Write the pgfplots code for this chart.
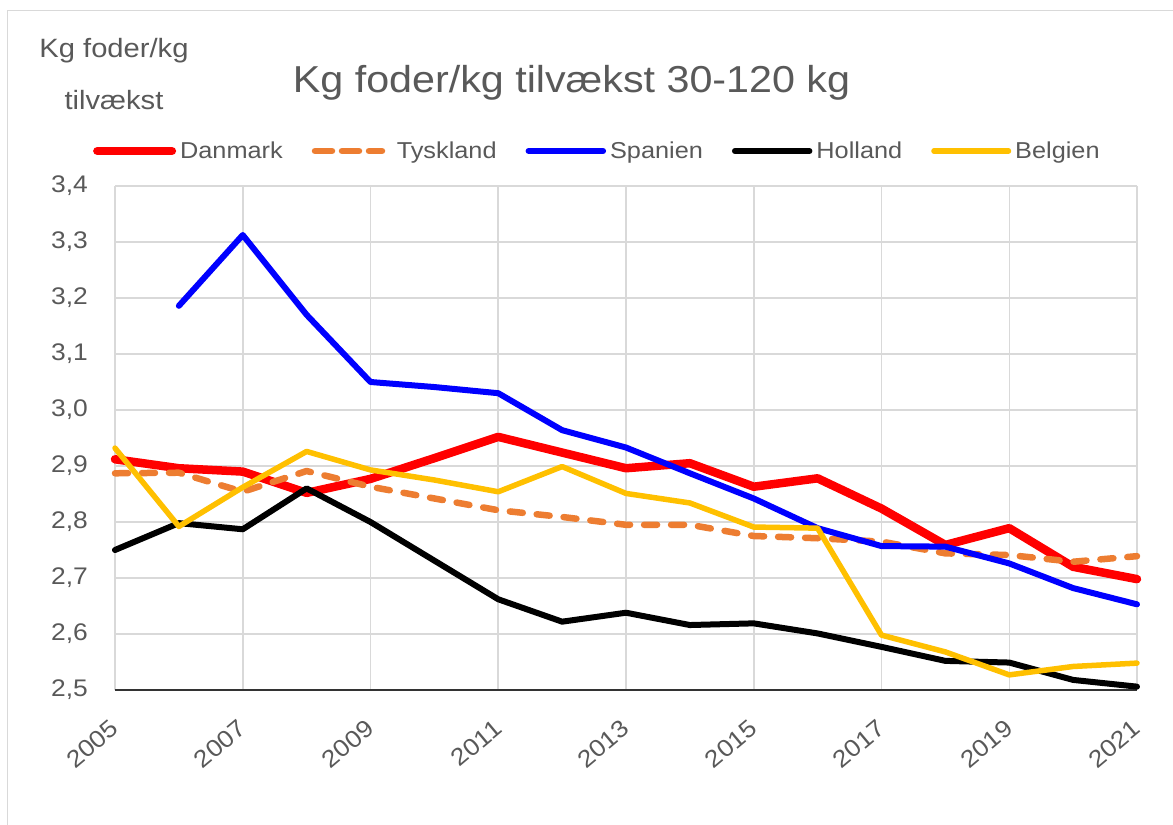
\documentclass[border=0pt]{standalone}
\usepackage{fontspec}
\setmainfont{Liberation Sans}[FakeStretch=1.1]
\usepackage{pgfplots}
\pgfplotsset{compat=1.18}
\definecolor{txtgray}{HTML}{595959}
\definecolor{gridgray}{HTML}{D9D9D9}
\definecolor{framegray}{HTML}{D9D9D9}
\definecolor{dkred}{HTML}{FF0000}
\definecolor{orng}{HTML}{ED7D31}
\definecolor{blu}{HTML}{0000FF}
\definecolor{yel}{HTML}{FFC000}
\pgfplotsset{mylegimg/.style={legend image code/.code={\path (0bp,0bp) -- (74.5bp,0bp); \draw[##1, line cap=round] (4bp,0bp) -- (64.6bp,0bp);}}}
\begin{document}
\begin{tikzpicture}
\path[use as bounding box] (0bp,0bp) rectangle (1173bp,825bp);
\fill[white] (0bp,0bp) rectangle (1173bp,825bp);
\draw[framegray, line width=1.5bp] (7.5bp,-5bp) -- (7.5bp,814.5bp) -- (1180bp,814.5bp);
\begin{axis}[
  at={(115bp,135bp)}, anchor=south west,
  scale only axis, width=1022bp, height=504bp,
  xmin=2005, xmax=2021, ymin=2.5, ymax=3.4,
  xtick={2005,2007,...,2021}, ytick={2.5,2.6,...,3.4},
  grid=major, major grid style={gridgray, line width=1.5bp},
  axis lines=left, y axis line style={draw=none},
  x axis line style={black!80, line width=1.5bp, -},
  major tick length=0pt,
  clip=false,
  /pgf/number format/assume math mode=true,
  xticklabel style={yshift=-35bp, xshift=0bp, rotate=40, anchor=east, inner sep=0bp, text=txtgray, font=\fontsize{24bp}{28bp}\selectfont, /pgf/number format/1000 sep={}},
  yticklabel style={xshift=-27bp, anchor=east, inner sep=0bp, text=txtgray, font=\fontsize{24bp}{28bp}\selectfont, /pgf/number format/.cd, fixed, fixed zerofill, precision=1, use comma},
  legend columns=5,
  legend style={at={(-0.0216,1.0694)}, anchor=west, draw=none, fill=none, inner sep=0bp,
    font=\fontsize{23bp}{26bp}\selectfont, text=txtgray,
    nodes={inner sep=1bp},
    /tikz/every odd column/.append style={column sep=3bp},
    /tikz/every even column/.append style={column sep=28bp}},
  every axis plot/.append style={line join=round, line cap=round, mylegimg},
]
\addplot[dkred, line width=8.5bp, mylegimg] coordinates {
(2005,2.912) (2006,2.896) (2007,2.890) (2008,2.852) (2009,2.877) (2010,2.914)
(2011,2.952) (2012,2.924) (2013,2.896) (2014,2.905) (2015,2.863) (2016,2.878)
(2017,2.824) (2018,2.759) (2019,2.789) (2020,2.720) (2021,2.698)};
\addlegendentry{Danmark}
\addplot[orng, line width=6.5bp, dash pattern=on 13bp off 14bp, mylegimg] coordinates {
(2005,2.887) (2006,2.888) (2007,2.854) (2008,2.891) (2009,2.863) (2010,2.842)
(2011,2.821) (2012,2.809) (2013,2.795) (2014,2.795) (2015,2.775) (2016,2.771)
(2017,2.765) (2018,2.744) (2019,2.741) (2020,2.729) (2021,2.739)};
\addlegendentry{Tyskland}
\addplot[blu, line width=6bp, mylegimg] coordinates {
(2006,3.186) (2007,3.3125) (2008,3.170) (2009,3.050) (2010,3.041)
(2011,3.030) (2012,2.964) (2013,2.933) (2014,2.887) (2015,2.842) (2016,2.789)
(2017,2.757) (2018,2.756) (2019,2.726) (2020,2.682) (2021,2.653)};
\addlegendentry{Spanien}
\addplot[black, line width=6bp, mylegimg] coordinates {
(2005,2.750) (2006,2.798) (2007,2.787) (2008,2.860) (2009,2.800) (2010,2.731)
(2011,2.662) (2012,2.622) (2013,2.638) (2014,2.616) (2015,2.619) (2016,2.601)
(2017,2.577) (2018,2.552) (2019,2.549) (2020,2.518) (2021,2.506)};
\addlegendentry{Holland}
\addplot[yel, line width=5.5bp, mylegimg] coordinates {
(2005,2.932) (2006,2.792) (2007,2.862) (2008,2.926) (2009,2.893) (2010,2.875)
(2011,2.854) (2012,2.899) (2013,2.851) (2014,2.834) (2015,2.791) (2016,2.789)
(2017,2.598) (2018,2.568) (2019,2.527) (2020,2.542) (2021,2.548)};
\addlegendentry{Belgien}
\end{axis}
\node[anchor=base, inner sep=0pt, text=txtgray, font=\fontsize{37.5bp}{40bp}\selectfont] at (571.5bp,732bp) {Kg foder/kg tilvækst 30-120 kg};
\node[anchor=base, inner sep=0pt, text=txtgray, font=\fontsize{26.5bp}{28bp}\selectfont] at (114bp,767bp) {Kg foder/kg};
\node[anchor=base, inner sep=0pt, text=txtgray, font=\fontsize{26.5bp}{28bp}\selectfont] at (114bp,715bp) {tilvækst};
\end{tikzpicture}
\end{document}
